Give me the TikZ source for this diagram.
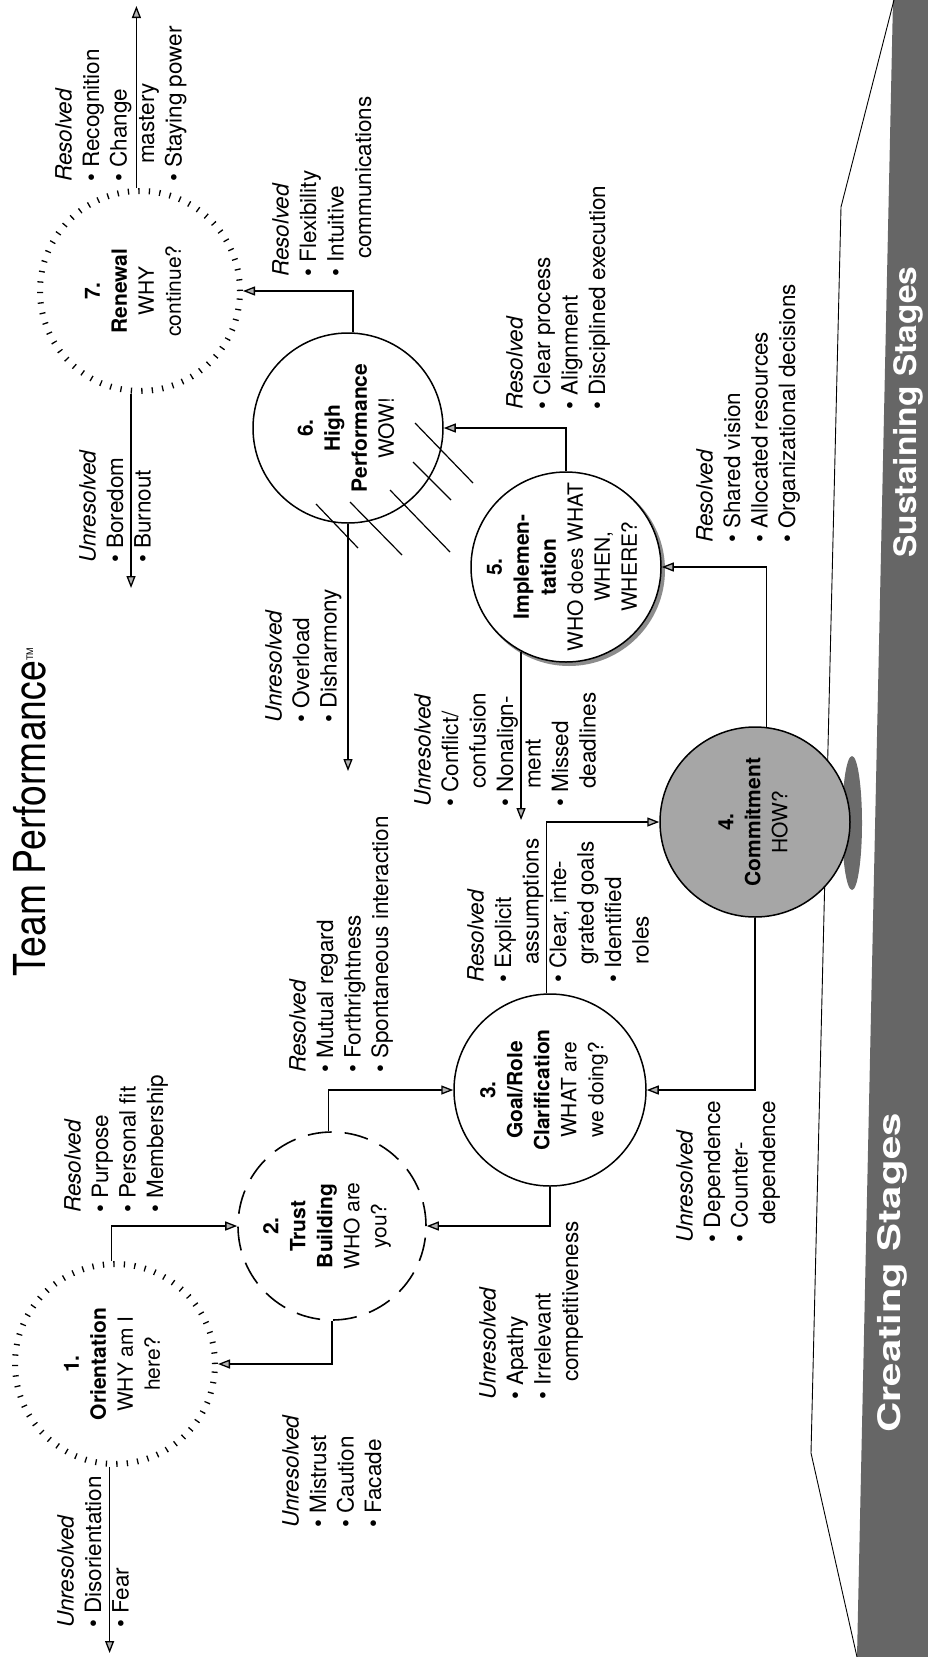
\documentclass[tikz,border=0pt]{standalone}
\usepackage{fontspec}
\setmainfont{TeX Gyre Heros}
\usetikzlibrary{arrows.meta}
\newcommand{\mybul}{\textbullet\ }
\newcommand{\myind}{\hspace*{18pt}}
\begin{document}
\begin{tikzpicture}[x=1pt,y=-1pt,
  txt/.style={rotate=90,anchor=north west,align=left,inner sep=0pt,font=\fontsize{22.5}{27.5}\selectfont},
  ctxt/.style={rotate=90,align=center,inner sep=0pt,font=\fontsize{21}{27}\selectfont},
  ring/.style={circle,draw,fill=white,line width=1.5pt,inner sep=0pt},
  tickring/.style={circle,draw,line width=6pt,dash pattern=on 1.3pt off 9.2pt,inner sep=0pt},
  dashring/.style={circle,draw,line width=1.6pt,dash pattern=on 24pt off 13pt,inner sep=0pt},
  conn/.style={line width=1.3pt,-{Triangle[length=12pt,width=9pt,fill=black!30]}},
  hatch/.style={line width=1.2pt},
  stagelbl/.style={rotate=90,text=white,inner sep=0pt,font=\fontsize{31}{31}\selectfont\bfseries}
]
\useasboundingbox (0,0) rectangle (928,1657);
\fill[white] (0,0) rectangle (928,1657);

% base bar and platform
\fill[black!60] (893,0) -- (928,0) -- (928,1657) -- (857,1657) -- cycle;
\draw[line width=0.9pt] (894,0) -- (841,207) -- (811,1453) -- (857,1657);
\fill[black!58] (852,823) ellipse [x radius=10pt, y radius=67pt];

\node[stagelbl] (ss) at (908,412) {\scalebox{1.08}[1]{Sustaining Stages}};
\node[stagelbl] (cs) at (892,1273) {\scalebox{1.35}[1]{Creating Stages}};

% title
\node[rotate=90,anchor=base west,inner sep=0pt,font=\fontsize{44}{44}\selectfont] (title) at (45,977)
  {\scalebox{0.85}[1]{Team Performance}\raisebox{12pt}{\fontsize{9}{9}\selectfont TM}};

% circles
\node[tickring,minimum size=200pt] (c7) at (140,291) {};
\node[ring,minimum size=190pt] (c6) at (348,428) {};
\fill[black!45] (569,570) circle (96pt);
\node[ring,minimum size=190pt] (c5) at (566,567) {};
\node[ring,fill=black!35,minimum size=190pt] (c4) at (755,822) {};
\node[ring,minimum size=192pt] (c3) at (550,1090) {};
\node[dashring,minimum size=188pt] (c2) at (332,1226) {};
\node[tickring,minimum size=200pt] (c1) at (115,1364) {};

% circle texts
\node[ctxt] (t7) at (133,291) {\textbf{7.}\\ \textbf{Renewal}\\ WHY\\ continue?};
\node[ctxt] (t6) at (346,428) {\textbf{6.}\\ \textbf{High}\\ \textbf{Performance}\\ WOW!};
\node[ctxt] (t5) at (562,567) {\textbf{5.}\\ \textbf{Implemen-}\\ \textbf{tation}\\ WHO does WHAT\\ WHEN,\\ WHERE?};
\node[ctxt] (t4) at (753,822) {\textbf{4.}\\ \textbf{Commitment}\\ HOW?};
\node[ctxt] (t3) at (544,1090) {\textbf{3.}\\ \textbf{Goal/Role}\\ \textbf{Clarification}\\ WHAT are\\ we doing?};
\node[ctxt] (t2) at (327,1226) {\textbf{2.}\\ \textbf{Trust}\\ \textbf{Building}\\ WHO are\\ you?};
\node[ctxt] (t1) at (112,1364) {\textbf{1.}\\ \textbf{Orientation}\\ WHY am I\\ here?};

% hatching on circle 6
\draw[hatch] (415,423) -- (473,483);
\draw[hatch] (413,462) -- (451,500);
\draw[hatch] (390,490) -- (450,552);
\draw[hatch] (350,502) -- (402,555);
\draw[hatch] (316,504) -- (358,548);

% free ends
\coordinate (e7r) at (137,6);
\coordinate (e7u) at (130,588);
\coordinate (e6u) at (347,771);
\coordinate (e5u) at (521,820);
\coordinate (e1u) at (110,1653);

% connectors
\draw[conn] (c1.92) |- (c2.west);
\draw[conn] (c2.south) |- (c1.east);
\draw[conn] (c2.92) |- (c3.west);
\draw[conn] (c3.south) |- (c2.east);
\draw[conn] (c3.92) |- (c4.west);
\draw[conn] (c4.south) |- (c3.east);
\draw[conn] (c4.83) |- (c5.east);
\draw[conn] (c5.north) |- (c6.east);
\draw[conn] (c6.87) |- (c7.east);
\draw[conn] (c7.92) -- (c7.92 |- e7r);
\draw[conn] (c7.265) -- (c7.265 |- e7u);
\draw[conn] (c6.south) -- (c6.south |- e6u);
\draw[conn] (c5.242) -- (c5.242 |- e5u);
\draw[conn] (c1.267) -- (c1.267 |- e1u);

% outcome texts
\node[txt] (r7) at (55,182) {\textit{Resolved}\\ \mybul Recognition\\ \mybul Change\\ \myind mastery\\ \mybul Staying power};
\node[txt] (u7) at (79,563) {\textit{Unresolved}\\ \mybul Boredom\\ \mybul Burnout};
\node[txt] (r6) at (272,277) {\textit{Resolved}\\ \mybul Flexibility\\ \mybul Intuitive\\ \myind communications};
\node[txt] (u6) at (265,723) {\textit{Unresolved}\\ \mybul Overload\\ \mybul Disharmony};
\node[txt] (r5) at (506,410) {\textit{Resolved}\\ \mybul Clear process\\ \mybul Alignment\\ \mybul Disciplined execution};
\node[txt] (u5) at (414,807) {\textit{Unresolved}\\ \mybul Conflict/\\ \myind confusion\\ \mybul Nonalign-\\ \myind ment\\ \mybul Missed\\ \myind deadlines};
\node[txt] (r4) at (696,543) {\textit{Resolved}\\ \mybul Shared vision\\ \mybul Allocated resources\\ \mybul Organizational decisions};
\node[txt] (u4) at (676,1243) {\textit{Unresolved}\\ \mybul Dependence\\ \mybul Counter-\\ \myind dependence};
\node[txt] (r3) at (467,983) {\textit{Resolved}\\ \mybul Explicit\\ \myind assumptions\\ \mybul Clear, inte-\\ \myind grated goals\\ \mybul Identified\\ \myind roles};
\node[txt] (u3) at (479,1400) {\textit{Unresolved}\\ \mybul Apathy\\ \mybul Irrelevant\\ \myind competitiveness};
\node[txt] (r2) at (289,1073) {\textit{Resolved}\\ \mybul Mutual regard\\ \mybul Forthrightness\\ \mybul Spontaneous interaction};
\node[txt] (u2) at (282,1528) {\textit{Unresolved}\\ \mybul Mistrust\\ \mybul Caution\\ \mybul Facade};
\node[txt] (r1) at (64,1213) {\textit{Resolved}\\ \mybul Purpose\\ \mybul Personal fit\\ \mybul Membership};
\node[txt] (u1) at (57,1628) {\textit{Unresolved}\\ \mybul Disorientation\\ \mybul Fear};
\end{tikzpicture}
\end{document}
